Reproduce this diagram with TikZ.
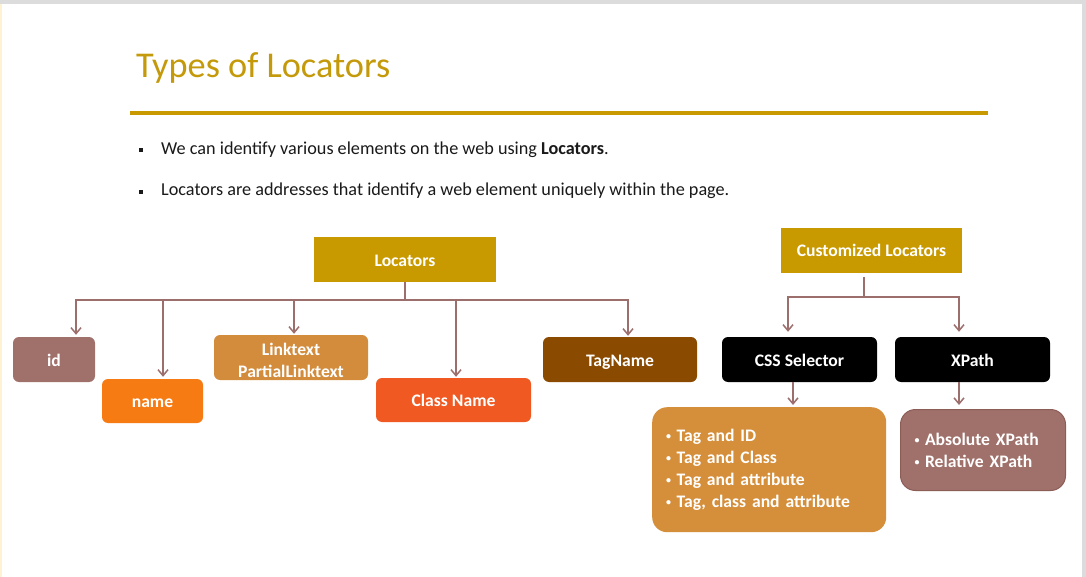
\documentclass[tikz,border=0pt]{standalone}
\usepackage{fontspec}
\setmainfont{Carlito}
\usetikzlibrary{arrows.meta}

\definecolor{gold}{HTML}{C99A00}
\definecolor{titlegold}{HTML}{C49A0A}
\definecolor{connc}{HTML}{9C6E6C}
\definecolor{rosy}{HTML}{A0706A}
\definecolor{rosyedge}{HTML}{8C5C57}
\definecolor{orangec}{HTML}{F77B13}
\definecolor{ochre}{HTML}{D38C3C}
\definecolor{redorange}{HTML}{F05A22}
\definecolor{brownc}{HTML}{8A4A00}
\definecolor{listochre}{HTML}{D58F3A}
\definecolor{edgegrey}{HTML}{DCDCDC}
\definecolor{edgeyellow}{HTML}{FFF2D2}
\definecolor{bodytext}{HTML}{1A1A1A}

% small list bullet followed by a gap
\newcommand\listdot{\makebox[10.5pt][l]{\raisebox{1.5pt}{\fontsize{10}{10}\selectfont•}}}

\begin{document}
\begin{tikzpicture}[x=1pt,y=-1pt,
  boxfont/.style={font=\fontsize{17.6}{22}\selectfont\bfseries},
  box/.style={boxfont, minimum height=45pt, inner sep=0pt, text=white, align=center},
  oneline/.style={text height=13pt, text depth=0pt},
  rbox/.style={box, rounded corners=6pt},
  listbox/.style={boxfont, text=white, align=left, inner xsep=14pt, inner ysep=0pt, rounded corners=15pt, anchor=north west},
  conn/.style={draw=connc, line width=1.5pt},
  arr/.style={conn, -{Straight Barb[length=6pt,width=10pt]}},
  bodyfont/.style={font=\fontsize{18.2}{22}\selectfont, text=bodytext},
  bulletsq/.style={fill=bodytext, minimum size=4pt, inner sep=0pt}
]
% page and frame edges
\useasboundingbox (0,0) rectangle (1086,577);
\fill[white] (0,0) rectangle (1086,577);
\fill[edgegrey] (0,0) rectangle (1086,4);
\fill[edgegrey] (1082,0) rectangle (1086,577);
\fill[edgeyellow] (0,4) rectangle (2,577);

% heading
\node[anchor=base west, inner sep=0pt, text=titlegold, font=\fontsize{36.3}{40}\selectfont] (title) at (136,78) {Types of Locators};
\fill[gold] (130,111) rectangle (988,115);

% introductory bullets
\node[bulletsq] (b1) at (141,150) {};
\node[bodyfont, anchor=base west, inner sep=0pt] (t1) at (161,155) {We can identify various elements on the web using \textbf{Locators}.};
\node[bulletsq] (b2) at (141,192) {};
\node[bodyfont, anchor=base west, inner sep=0pt] (t2) at (161,196) {Locators are addresses that identify a web element uniquely within the page.};

% standard locators
\node[box, oneline, fill=gold, minimum width=182pt] (loc) at (405,259.5) {Locators};
\node[rbox, oneline, fill=rosy, minimum width=82pt] (id) at (54,359.5) {id};
\node[rbox, oneline, fill=orangec, minimum width=101pt, minimum height=44pt] (name) at (152.5,401) {name};
\node[rbox, fill=ochre, minimum width=154pt] (link) at (291,357.5) {};
\node[boxfont, text=white, align=center, inner sep=0pt] (linktext) at ([yshift=-2.5pt]link.center) {Linktext\\PartialLinktext};
\node[rbox, oneline, fill=redorange, minimum width=155pt, minimum height=44pt] (cls) at (453.5,400) {Class Name};
\node[rbox, oneline, fill=brownc, minimum width=154pt] (tag) at (620,359.5) {TagName};

\coordinate (lj) at (405,300);
\draw[conn] (loc.south) -- (lj);
\draw[arr, shorten >=2pt] (lj) -| ([xshift=22pt]id.north);
\draw[arr, shorten >=2pt] (lj) -| ([xshift=10.5pt]name.north);
\draw[arr, shorten >=1pt] (lj) -| ([xshift=3pt]link.north);
\draw[arr, shorten >=1pt] (lj) -| ([xshift=2.5pt]cls.north);
\draw[arr, shorten >=1pt] (lj) -| ([xshift=8pt]tag.north);

% customized locators
\node[box, oneline, fill=gold, minimum width=181pt] (cust) at (871.5,250.5) {Customized Locators};
\node[rbox, oneline, fill=black, minimum width=155pt] (css) at (799.5,359.5) {CSS Selector};
\node[rbox, oneline, fill=black, minimum width=155pt] (xp) at (972.5,359.5) {XPath};

\node[listbox, fill=listochre, text width=206pt, minimum height=125pt] (csslist) at (652,407)
  {\listdot Tag and ID\\
   \listdot Tag and Class\\
   \listdot Tag and attribute\\
   \listdot Tag, class and attribute};
\node[listbox, fill=rosy, draw=rosyedge, line width=1pt, text width=137pt, minimum height=81pt] (xplist) at (900,409)
  {\listdot Absolute XPath\\
   \listdot Relative XPath};

\coordinate (cj) at (864,297);
\draw[conn, shorten <=4pt] ([xshift=-7.5pt]cust.south) -- (cj);
\draw[arr, shorten >=5pt] (cj) -| ([xshift=-11.5pt]css.north);
\draw[arr, shorten >=5pt] (cj) -| ([xshift=-13.5pt]xp.north);
\draw[arr, shorten >=2pt] ([xshift=-6.5pt]css.south) -- ([xshift=-6.5pt]css.south |- csslist.north);
\draw[arr, shorten >=4pt] ([xshift=-13.5pt]xp.south) -- ([xshift=-13.5pt]xp.south |- xplist.north);
\end{tikzpicture}
\end{document}
